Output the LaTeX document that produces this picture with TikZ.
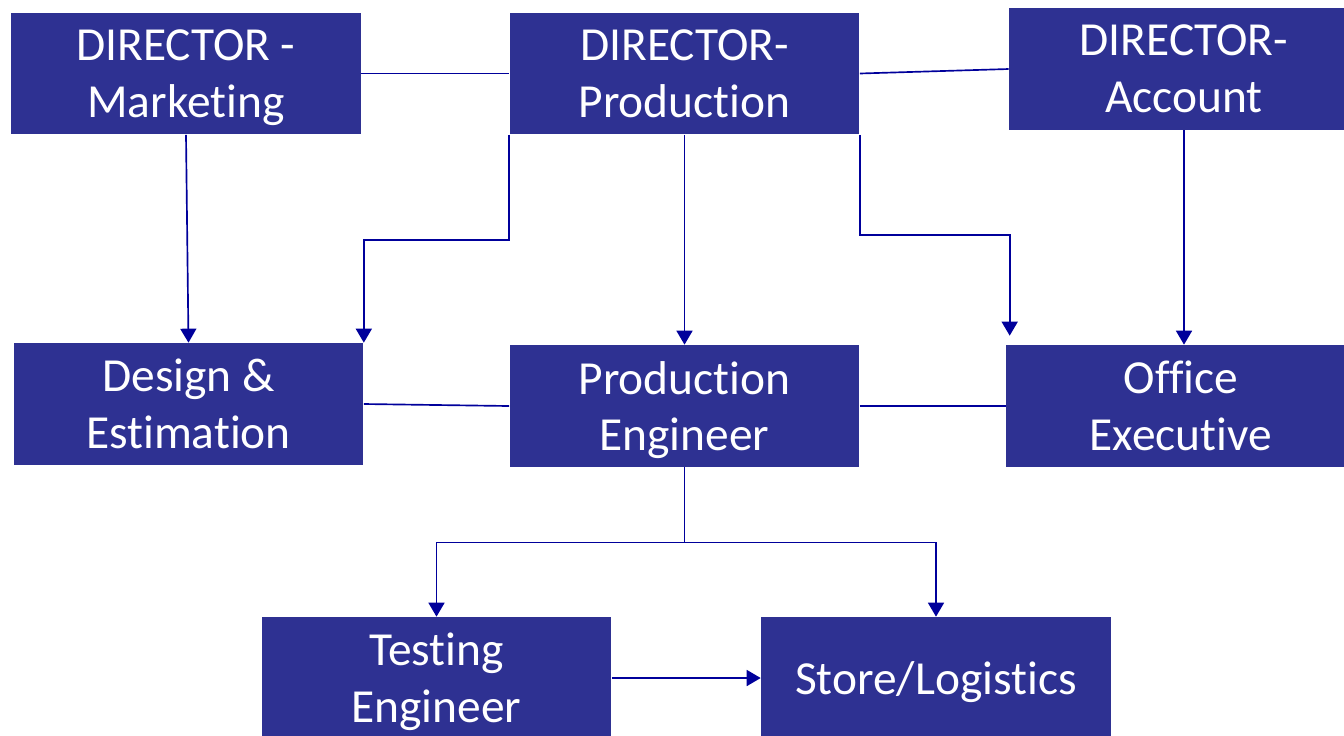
\documentclass[tikz,border=0pt]{standalone}
\usepackage{fontspec}
\setmainfont{Carlito}[Ligatures=NoCommon]
\usetikzlibrary{arrows.meta,calc}
\definecolor{boxblue}{RGB}{46,49,146}
\definecolor{lineblue}{RGB}{0,0,155}
\begin{document}
\begin{tikzpicture}[
  x=0.02cm, y=-0.02cm,
  block/.style={rectangle, fill=boxblue, text=white, minimum width=7cm, minimum height=2.44cm, align=center, inner sep=0pt, text depth=-0.04cm, font=\fontsize{27}{32.4}\selectfont},
  link/.style={draw=lineblue, line width=0.95pt},
  arrow/.style={link, -{Triangle[width=0.32cm, length=0.28cm]}}
]
\useasboundingbox (0,0) rectangle (1344,735);
\node[block] (mkt) at (186,73.5) {DIRECTOR -\\Marketing};
\node[block] (prod) at (684.5,73.5) {DIRECTOR-\\Production};
\node[block] (acct) at (1184,69) {DIRECTOR-\\Account};
\node[block] (design) at (188.5,404) {Design \&\\Estimation};
\node[block] (peng) at (684.5,406) {Production\\Engineer};
\node[block] (office) at (1181,406) {Office\\Executive};
\node[block] (test) at (436.5,678) {Testing\\Engineer};
\node[block] (store) at (936,678) {Store/Logistics};

\draw[link] (mkt.east) -- (prod.west);
\draw[link] (prod.east) -- (acct.west);
\draw[link] (design.east) -- (peng.west);
\draw[link] (peng.east) -- (office.west);
\draw[arrow] (mkt.south) -- (design.north);
\draw[arrow] (prod.south) -- (peng.north);
\draw[arrow] (acct.south) -- (acct.south |- office.north);
\draw[arrow] (prod.south west) -- ++(0,105) -| (design.north east);
\draw[arrow] (prod.south east) -- ++(0,100) -| ($(office.north west)+(4,-9)$);
\draw[arrow] (peng.south) -- ++(0,75) -| (test.north);
\draw[arrow] (peng.south) -- ++(0,75) -| (store.north);
\draw[arrow] (test.east) -- (store.west);
\end{tikzpicture}
\end{document}
